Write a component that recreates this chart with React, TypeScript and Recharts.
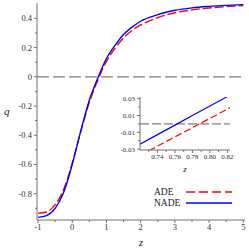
import { LineChart, Line, XAxis, YAxis, ReferenceLine, Legend, CartesianGrid } from 'recharts'

// main panel: deceleration parameter q(z)
const zValues = [-1, -0.75, -0.5, -0.25, 0, 0.25, 0.5, 0.75, 1, 1.25, 1.5, 1.75, 2, 2.5, 3, 3.5, 4, 4.5, 5]
const adeValues = [-0.935, -0.925, -0.875, -0.77, -0.59, -0.375, -0.175, -0.021, 0.105, 0.195, 0.265, 0.318, 0.355, 0.405, 0.438, 0.458, 0.471, 0.48, 0.487]
const nadeValues = [-0.962, -0.95, -0.9, -0.79, -0.6, -0.37, -0.16, -0.007, 0.125, 0.215, 0.29, 0.34, 0.38, 0.425, 0.455, 0.472, 0.482, 0.489, 0.494]

// inset: zoom around the q = 0 crossing
const zInset = [0.72, 0.74, 0.76, 0.78, 0.8, 0.82, 0.825]
const adeInset = [-0.0374, -0.0264, -0.0154, -0.0044, 0.0066, 0.0176, 0.0204]
const nadeInset = [-0.024, -0.0127, -0.0014, 0.0099, 0.0212, 0.0325, 0.0353]

const xTicks = [-1, -0.5, 0, 0.5, 1, 1.5, 2, 2.5, 3, 3.5, 4, 4.5, 5]
const yTicks = [-0.9, -0.8, -0.7, -0.6, -0.5, -0.4, -0.3, -0.2, -0.1, 0, 0.1, 0.2, 0.3, 0.4]
const xTicksInset = [0.73, 0.74, 0.75, 0.76, 0.77, 0.78, 0.79, 0.8, 0.81, 0.82]
const yTicksInset = [-0.03, -0.02, -0.01, 0, 0.01, 0.02, 0.03]

const mainData = zValues.map((z, i) => ({ z, ade: adeValues[i], nade: nadeValues[i] }))
const insetData = zInset.map((z, i) => ({ z, ade: adeInset[i], nade: nadeInset[i] }))

const FONT = 'Liberation Serif'
const AXIS = '#707070'
const FRAME = '#9a9a9a'

const isMajor = (v: number, step: number, odd = false) => {
  const k = Math.round(v / step)
  return odd ? Math.abs(k) % 2 === 1 : k % 2 === 0
}

function YTick({ x, y, payload, step, odd, fs, fmt }: any) {
  const major = isMajor(payload.value, step, odd)
  return (
    <g>
      <line x1={x - (major ? 3 : 2)} x2={x} y1={y} y2={y} stroke={AXIS} />
      {major && (
        <text x={x - 5} y={y} dy="0.35em" textAnchor="end" fontSize={fs} fontFamily={FONT} fill="#333">
          {fmt(payload.value)}
        </text>
      )}
    </g>
  )
}

function XTick({ x, y, payload, step, odd, fs, fmt }: any) {
  const major = isMajor(payload.value, step, odd)
  return (
    <g>
      <line x1={x} x2={x} y1={y} y2={y + (major ? 3 : 2)} stroke={AXIS} />
      {major && (
        <text x={x} y={y + 4} dy="0.75em" textAnchor="middle" fontSize={fs} fontFamily={FONT} fill="#333">
          {fmt(payload.value)}
        </text>
      )}
    </g>
  )
}

const fmtMain = (v: number) => (Math.abs(v) < 1e-9 ? '0' : Number.isInteger(v) ? String(v) : v.toFixed(1))
const fmtInset = (v: number) => v.toFixed(2)

function LegendBox() {
  const rows = [
    { name: 'ADE', color: '#ff0000', dash: '9 4' },
    { name: 'NADE', color: '#0000ff', dash: undefined },
  ]
  return (
    <svg width={90} height={24}>
      {rows.map((r, i) => (
        <g key={r.name}>
          <text x={0} y={6 + i * 11} dy="0.35em" fontSize={9.5} fontFamily={FONT} fill="#222">
            {r.name}
          </text>
          <line x1={32} x2={78} y1={6 + i * 11} y2={6 + i * 11} stroke={r.color} strokeWidth={1.3} strokeDasharray={r.dash} />
        </g>
      ))}
    </svg>
  )
}

export default function App() {
  return (
    <div style={{ position: 'absolute', left: 0, top: 0, width: 249, height: 249, background: '#fff' }}>
      <LineChart width={249} height={249} data={mainData} margin={{ top: 3, right: 4, bottom: 0, left: 0 }}>
        <XAxis
          dataKey="z"
          type="number"
          domain={[-1.03, 5.05]}
          ticks={xTicks}
          interval={0}
          height={29}
          tickSize={0}
          tickMargin={0}
          stroke={AXIS}
          tick={<XTick step={0.5} fs={8.5} fmt={fmtMain} />}
          label={{ value: 'z', position: 'insideBottom', offset: 3, style: { fontFamily: FONT, fontStyle: 'italic', fontSize: 11, fill: '#222' } }}
        />
        <XAxis xAxisId="top" orientation="top" dataKey="z" type="number" domain={[-1.03, 5.05]} height={0} tick={false} tickLine={false} axisLine={{ stroke: FRAME, strokeWidth: 1.5 }} />
        <YAxis
          type="number"
          domain={[-0.98, 0.505]}
          ticks={yTicks}
          interval={0}
          width={37}
          tickSize={0}
          tickMargin={0}
          stroke={AXIS}
          tick={<YTick step={0.1} fs={8.5} fmt={fmtMain} />}
          label={{ value: 'q', position: 'insideLeft', offset: 4, style: { fontFamily: FONT, fontStyle: 'italic', fontSize: 11, fill: '#222' } }}
        />
        <YAxis yAxisId="right" orientation="right" domain={[-0.98, 0.505]} width={0} tick={false} tickLine={false} axisLine={{ stroke: FRAME, strokeWidth: 1.5 }} />
        <ReferenceLine y={0} stroke="#808080" strokeWidth={1.3} strokeDasharray="12 4" />
        <Line dataKey="ade" type="monotone" stroke="#ff0000" strokeWidth={1.4} strokeDasharray="9 3" dot={false} isAnimationActive={false} />
        <Line dataKey="nade" type="monotone" stroke="#0000ff" strokeWidth={1.4} dot={false} isAnimationActive={false} />
        <Legend
          layout="vertical"
          align="center"
          verticalAlign="middle"
          content={() => <LegendBox />}
          wrapperStyle={{ left: 154, top: 186, width: 90, height: 24 }}
        />
      </LineChart>

      <div style={{ position: 'absolute', left: 118, top: 93 }}>
        <LineChart width={120} height={80} data={insetData} margin={{ top: 4, right: 8, bottom: 0, left: 0 }}>
          <CartesianGrid horizontal={false} vertical={false} fill="#fff" />
          <XAxis
            dataKey="z"
            type="number"
            domain={[0.72, 0.823]}
            allowDataOverflow
            ticks={xTicksInset}
            interval={0}
            height={23}
            tickSize={0}
            tickMargin={0}
            stroke={AXIS}
            tick={<XTick step={0.01} fs={7} fmt={fmtInset} />}
            label={{ value: 'z', position: 'insideBottom', offset: 1, style: { fontFamily: FONT, fontStyle: 'italic', fontSize: 9, fill: '#222' } }}
          />
          <XAxis xAxisId="top" orientation="top" dataKey="z" type="number" domain={[0.72, 0.823]} allowDataOverflow height={0} tick={false} tickLine={false} axisLine={{ stroke: FRAME, strokeWidth: 1.3 }} />
          <YAxis
            type="number"
            domain={[-0.031, 0.032]}
            allowDataOverflow
            ticks={yTicksInset}
            interval={0}
            width={22}
            tickSize={0}
            tickMargin={0}
            stroke={AXIS}
            tick={<YTick step={0.01} odd fs={7} fmt={fmtInset} />}
          />
          <YAxis yAxisId="right" orientation="right" domain={[-0.031, 0.032]} allowDataOverflow width={0} tick={false} tickLine={false} axisLine={{ stroke: FRAME, strokeWidth: 1.3 }} />
          <ReferenceLine y={0} stroke="#808080" strokeWidth={1.2} strokeDasharray="9 3" />
          <Line dataKey="ade" type="linear" stroke="#ff0000" strokeWidth={1.2} strokeDasharray="7 3" dot={false} isAnimationActive={false} />
          <Line dataKey="nade" type="linear" stroke="#0000ff" strokeWidth={1.2} dot={false} isAnimationActive={false} />
        </LineChart>
      </div>
    </div>
  )
}
